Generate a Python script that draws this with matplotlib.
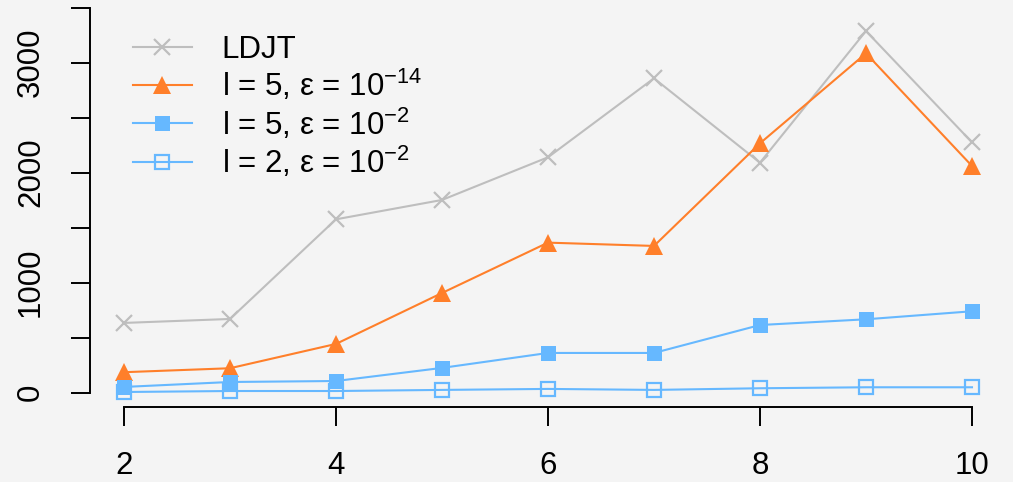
import matplotlib
matplotlib.use("Agg")
import matplotlib.pyplot as plt
import matplotlib.transforms as mtransforms

plt.rcParams['font.family'] = ['Liberation Sans', 'DejaVu Sans']
plt.rcParams['mathtext.fontset'] = 'custom'
plt.rcParams['mathtext.rm'] = 'Liberation Sans'
plt.rcParams['mathtext.it'] = 'Liberation Sans'
plt.rcParams['mathtext.default'] = 'regular'

x = [2, 3, 4, 5, 6, 7, 8, 9, 10]
ldjt = [634, 670, 1576, 1752, 2140, 2858, 2091, 3288, 2276]
l5_e14 = [186, 222, 443, 906, 1364, 1334, 2267, 3085, 2061]
l5_e2 = [52, 97, 106, 225, 361, 361, 615, 667, 740]
l2_e2 = [6, 15, 15, 25, 34, 25, 40, 49, 49]

labels = ['LDJT',
          'l = 5, ε = 10$^{−14}$',
          'l = 5, ε = 10$^{−2}$',
          'l = 2, ε = 10$^{−2}$']

xticks = [2, 4, 6, 8, 10]
yticks = [0, 500, 1000, 1500, 2000, 2500, 3000, 3500]
ytick_labels = ['0', '', '1000', '', '2000', '', '3000', '']

bg = '#F4F4F4'
gray = '#BEBEBE'
orange = '#FF7F2A'
blue = '#66B8FF'

fig = plt.figure(figsize=(10.13, 4.82), dpi=100, facecolor=bg)
ax = fig.add_axes([0.0889, 0.155, 0.9041, 0.8336], facecolor=bg)

lw = 1.5
styles = [
    dict(color=gray, lw=lw, marker='x', ms=11, mew=1.6),
    dict(color=orange, lw=lw, marker='^', ms=12.5, mew=0),
    dict(color=blue, lw=lw, marker='s', ms=10.8, mew=0),
    dict(color=blue, lw=lw, marker='s', ms=10, mfc='none', mew=1.6),
]
series = [ldjt, l5_e14, l5_e2, l2_e2]
for ys, st, lab in zip(series, styles, labels):
    ax.plot(x, ys, label=lab, **st)

ax.set_xlim(1.68, 10.32)
ax.set_ylim(-133, 3520)

for s in ['top', 'right']:
    ax.spines[s].set_visible(False)
ax.spines['left'].set_bounds(0, 3500)
ax.spines['bottom'].set_bounds(2, 10)
for s in ['left', 'bottom']:
    ax.spines[s].set_linewidth(1.4)

ax.set_xticks(xticks)
ax.set_xticklabels([str(t) for t in xticks])
ax.set_yticks(yticks)
ax.set_yticklabels(ytick_labels, rotation=90, va='center')
ax.tick_params(axis='both', direction='out', length=13.7, width=1.4,
               labelsize=22.5, colors='black')
ax.tick_params(axis='x', pad=18)
ax.tick_params(axis='y', pad=18)

# manual legend (R-style, evenly spaced rows)
leg_rows = [0.8975, 0.8021, 0.7068, 0.6113]
line_x0, line_x1, mark_x, text_x = 0.0469, 0.1113, 0.0782, 0.1437
base_off = mtransforms.offset_copy(ax.transAxes, fig=fig, x=0, y=-11.2, units='dots')
for yrow, st, lab in zip(leg_rows, styles, labels):
    line_st = {k: v for k, v in st.items() if k in ('color', 'lw')}
    ax.plot([line_x0, line_x1], [yrow, yrow], transform=ax.transAxes,
            clip_on=False, **line_st)
    ax.plot([mark_x], [yrow], transform=ax.transAxes, clip_on=False,
            ls='none', **{k: v for k, v in st.items() if k != 'lw'})
    ax.text(text_x, yrow, lab, transform=base_off, fontsize=22.5,
            ha='left', va='baseline')

fig.savefig('out.png', dpi=100, facecolor=bg)
